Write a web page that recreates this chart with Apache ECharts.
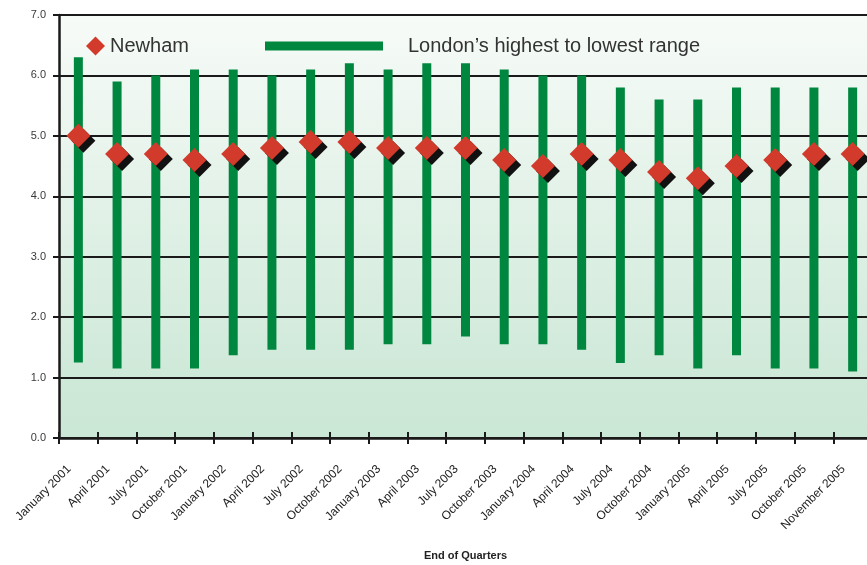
<!DOCTYPE html>
<html>
<head>
<meta charset="utf-8">
<script src="https://cdn.jsdelivr.net/npm/echarts@6/dist/echarts.min.js"></script>
<style>
  html, body { margin: 0; padding: 0; background: #fff; }
  #chart { width: 867px; height: 565px; }
</style>
</head>
<body>
<div id="chart"></div>
<script>
var quarters = [
  "January 2001", "April 2001", "July 2001", "October 2001",
  "January 2002", "April 2002", "July 2002", "October 2002",
  "January 2003", "April 2003", "July 2003", "October 2003",
  "January 2004", "April 2004", "July 2004", "October 2004",
  "January 2005", "April 2005", "July 2005", "October 2005",
  "November 2005"
];
var newham = [5.0, 4.7, 4.7, 4.6, 4.7, 4.8, 4.9, 4.9, 4.8, 4.8, 4.8,
  4.6, 4.5, 4.7, 4.6, 4.4, 4.3, 4.5, 4.6, 4.7, 4.7];
var londonHigh = [6.3, 5.9, 6.0, 6.1, 6.1, 6.0, 6.1, 6.2, 6.1, 6.2, 6.2,
  6.1, 6.0, 6.0, 5.8, 5.6, 5.6, 5.8, 5.8, 5.8, 5.8];
var londonLow = [1.25, 1.15, 1.15, 1.15, 1.37, 1.46, 1.46, 1.46, 1.55, 1.55, 1.68,
  1.55, 1.55, 1.46, 1.24, 1.37, 1.15, 1.37, 1.15, 1.15, 1.1];
var yTicks = [0, 1, 2, 3, 4, 5, 6, 7];

var font = "Liberation Sans, Arial, Helvetica, sans-serif";
var rangeName = "London\u2019s highest to lowest range";

// visible part of the bar = high - low, stacked on a transparent base
var rangeSpan = londonHigh.map(function (h, i) {
  return +(h - londonLow[i]).toFixed(3);
});

var chart = echarts.init(document.getElementById("chart"));

var gridTop = 15, gridHeight = 423;

var option = {
  animation: false,
  textStyle: { fontFamily: font },
  grid: {
    left: 59, top: gridTop, width: 813, height: gridHeight,
    outerBoundsMode: "none",
    containLabel: false,
    show: true,
    borderWidth: 0,
    backgroundColor: new echarts.graphic.LinearGradient(0, 0, 0, 1, [
      { offset: 0, color: "#f7fbf8" },
      { offset: 0.85, color: "#cfe9d9" },
      { offset: 1, color: "#cbe7d5" }
    ])
  },
  legend: [
    {
      data: ["Newham"],
      left: 86, top: 36, padding: 0,
      icon: "diamond",
      itemWidth: 19, itemHeight: 19,
      itemStyle: { opacity: 1, shadowColor: "transparent", shadowOffsetX: 0, shadowOffsetY: 0 },
      textStyle: { fontSize: 20, color: "#333", fontFamily: font }
    },
    {
      data: [rangeName],
      left: 265, top: 36, padding: 0,
      icon: "rect",
      itemWidth: 118, itemHeight: 9,
      textStyle: { fontSize: 20, color: "#333", fontFamily: font, padding: [0, 0, 0, 20] }
    }
  ],
  xAxis: [
    {
      type: "category",
      data: quarters,
      boundaryGap: true,
      name: "End of Quarters",
      nameLocation: "middle",
      nameGap: 112,
      nameTextStyle: { fontSize: 11, fontWeight: "bold", color: "#222", fontFamily: font },
      axisLine: { lineStyle: { color: "#1a1a1a", width: 2.5 } },
      axisTick: { show: true, interval: 0, length: 6, lineStyle: { color: "#1a1a1a", width: 2 } },
      axisLabel: {
        rotate: 45, interval: 0, fontSize: 12, color: "#222", margin: 20,
        padding: [0, 13, 0, 0],
        fontFamily: font
      },
      splitLine: { show: false }
    },
    {
      // second copy only to draw the upper half of the crossing ticks
      type: "category",
      data: quarters,
      position: "top",
      offset: -gridHeight,
      axisLine: { show: false },
      axisTick: { show: true, interval: 0, length: 6, lineStyle: { color: "#1a1a1a", width: 2 } },
      axisLabel: { show: false, interval: 0 }
    }
  ],
  yAxis: {
    type: "value",
    min: yTicks[0],
    max: yTicks[yTicks.length - 1],
    interval: 1,
    axisLine: { show: true, lineStyle: { color: "#1a1a1a", width: 2.5 } },
    axisTick: { show: true, length: 6, lineStyle: { color: "#1a1a1a", width: 2 } },
    axisLabel: {
      fontSize: 11, color: "#3a3a3a", margin: 13, fontFamily: font,
      formatter: function (v) { return v.toFixed(1); }
    },
    splitLine: { show: true, lineStyle: { color: "#1a1a1a", width: 2 } }
  },
  series: [
    {
      name: "base",
      type: "bar",
      stack: "range",
      barWidth: 9,
      silent: true,
      itemStyle: { color: "transparent" },
      data: londonLow
    },
    {
      name: rangeName,
      type: "bar",
      stack: "range",
      barWidth: 9,
      itemStyle: { color: "#00873f" },
      data: rangeSpan
    },
    {
      name: "Newham",
      type: "scatter",
      symbol: "diamond",
      symbolSize: 24,
      z: 5,
      itemStyle: {
        color: "#d23a2b",
        opacity: 1,
        shadowColor: "#111",
        shadowBlur: 0,
        shadowOffsetX: 5,
        shadowOffsetY: 5
      },
      data: newham
    }
  ]
};

chart.setOption(option);
</script>
</body>
</html>
